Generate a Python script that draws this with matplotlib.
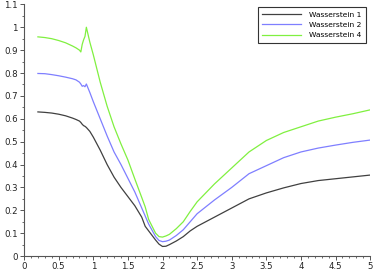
import numpy as np
import matplotlib
matplotlib.use("Agg")
import matplotlib.pyplot as plt
from matplotlib.ticker import MultipleLocator

# values
x = [0.2, 0.3, 0.4, 0.5, 0.6, 0.7, 0.75, 0.8, 0.82, 0.84, 0.86, 0.88, 0.9,
     0.95, 1.0, 1.1, 1.2, 1.3, 1.4, 1.5, 1.6, 1.7, 1.75, 1.8, 1.9, 1.95,
     2.0, 2.05, 2.1, 2.2, 2.3, 2.4, 2.5, 2.75, 3.0, 3.25, 3.5, 3.75, 4.0,
     4.25, 4.5, 4.75, 5.0]

w1 = [0.630, 0.628, 0.625, 0.620, 0.613, 0.603, 0.597, 0.590, 0.584, 0.576,
      0.570, 0.567, 0.562, 0.545, 0.520, 0.463, 0.400, 0.345, 0.300, 0.260,
      0.220, 0.170, 0.130, 0.110, 0.070, 0.052, 0.042, 0.043, 0.050, 0.066,
      0.085, 0.110, 0.130, 0.170, 0.210, 0.250, 0.276, 0.298, 0.317, 0.330,
      0.338, 0.346, 0.354]

w2 = [0.798, 0.797, 0.793, 0.788, 0.782, 0.775, 0.770, 0.760, 0.752, 0.742,
      0.745, 0.740, 0.752, 0.715, 0.675, 0.600, 0.525, 0.455, 0.400, 0.340,
      0.280, 0.210, 0.175, 0.140, 0.085, 0.068, 0.063, 0.065, 0.070, 0.090,
      0.115, 0.150, 0.185, 0.245, 0.300, 0.360, 0.395, 0.430, 0.455, 0.472,
      0.485, 0.497, 0.507]

w4 = [0.958, 0.955, 0.950, 0.942, 0.932, 0.918, 0.910, 0.900, 0.892, 0.925,
      0.945, 0.960, 1.000, 0.935, 0.880, 0.760, 0.655, 0.565, 0.490, 0.420,
      0.337, 0.256, 0.215, 0.160, 0.100, 0.085, 0.083, 0.088, 0.095, 0.120,
      0.150, 0.195, 0.237, 0.315, 0.385, 0.455, 0.505, 0.540, 0.565, 0.590,
      0.607, 0.622, 0.639]

labels = ["Wasserstein 1", "Wasserstein 2", "Wasserstein 4"]
colors = ["#404040", "#7f7fff", "#80f040"]

fig = plt.figure(figsize=(3.82, 2.73), dpi=100)
ax = fig.add_axes([0.063, 0.062, 0.906, 0.922])

for ys, lab, c in zip([w1, w2, w4], labels, colors):
    ax.plot(x, ys, color=c, lw=0.9, label=lab)

ax.set_xlim(0, 5)
ax.set_ylim(0, 1.1)
ax.xaxis.set_minor_locator(MultipleLocator(0.1))
ax.yaxis.set_minor_locator(MultipleLocator(0.05))
ax.set_xticks(np.arange(0, 5.01, 0.5))
ax.set_xticklabels(["0", "0.5", "1", "1.5", "2", "2.5", "3", "3.5", "4", "4.5", "5"])
ax.set_yticks(np.arange(0, 1.101, 0.1))
ax.set_yticklabels(["0", "0.1", "0.2", "0.3", "0.4", "0.5", "0.6", "0.7", "0.8",
                    "0.9", "1", "1.1"])

for s in ["top", "right"]:
    ax.spines[s].set_visible(False)
for s in ["left", "bottom"]:
    ax.spines[s].set_color("#555555")
    ax.spines[s].set_linewidth(0.8)
ax.tick_params(which="major", length=3, width=0.7, color="#555555",
               labelsize=6.2, labelcolor="#222222", pad=1.5)
ax.tick_params(which="minor", length=1.5, width=0.6, color="#555555")

leg = ax.legend(loc="upper right", fontsize=5.4, fancybox=False,
                edgecolor="#333333", framealpha=1, borderpad=0.6,
                handlelength=5.2, labelspacing=0.55, handletextpad=1.0,
                bbox_to_anchor=(0.998, 1.005))
leg.get_frame().set_linewidth(0.8)

fig.savefig("out.png", dpi=100)
